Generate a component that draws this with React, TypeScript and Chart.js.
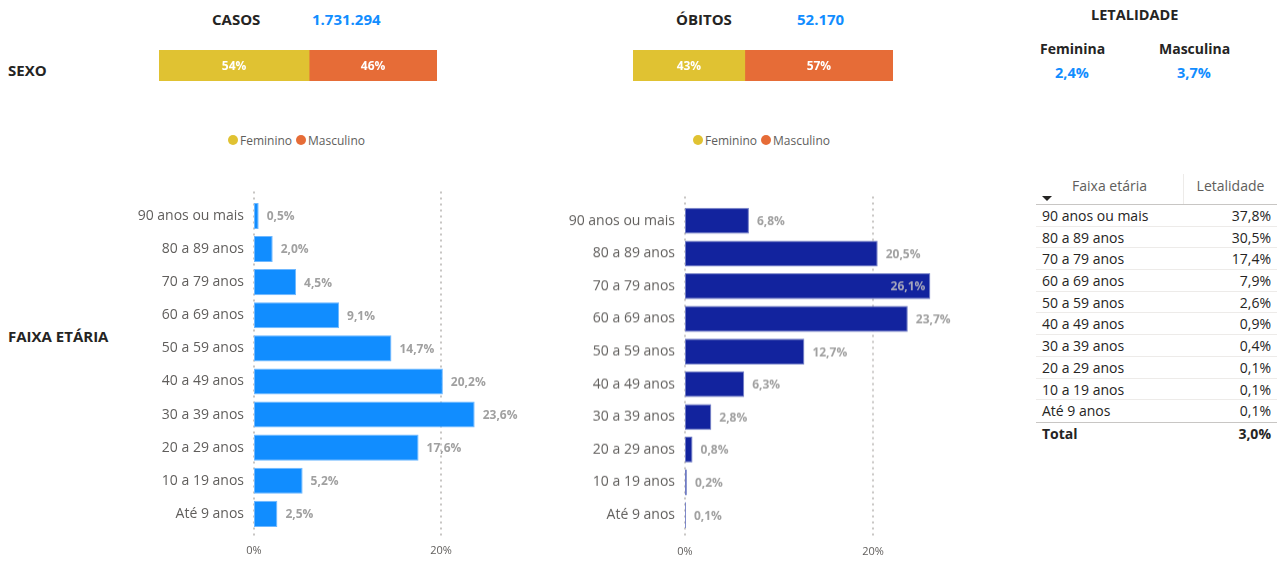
import React, { useEffect, useRef } from "react";
import { Chart, registerables } from "chart.js";

Chart.register(...registerables);

const FONT = '"Segoe UI", "Open Sans", sans-serif';
Chart.defaults.font.family = FONT;

// ---- Data ----
const ageLabels = [
  "90 anos ou mais",
  "80 a 89 anos",
  "70 a 79 anos",
  "60 a 69 anos",
  "50 a 59 anos",
  "40 a 49 anos",
  "30 a 39 anos",
  "20 a 29 anos",
  "10 a 19 anos",
  "Até 9 anos",
];
const casosPct = [0.5, 2.0, 4.5, 9.1, 14.7, 20.2, 23.6, 17.6, 5.2, 2.5];
const obitosPct = [6.8, 20.5, 26.1, 23.7, 12.7, 6.3, 2.8, 0.8, 0.2, 0.1];
const letalidadePct = [37.8, 30.5, 17.4, 7.9, 2.6, 0.9, 0.4, 0.1, 0.1, 0.1];
const letalidadeTotal = 3.0;

const sexLabels = ["Feminino", "Masculino"];
const casosSex = [54, 46];
const obitosSex = [43, 57];
const letalidadeSexLabels = ["Feminina", "Masculina"];
const letalidadeSex = [2.4, 3.7];

const casosTotal = "1.731.294";
const obitosTotal = "52.170";
const axisTicks = [0, 20];

const SEX_COLORS = ["#E0C232", "#E66C37"];

const fmtPct = (v: number) => v.toFixed(1).replace(".", ",") + "%";

// ---- Chart helpers ----
function useChart(build: () => any) {
  const ref = useRef<HTMLCanvasElement | null>(null);
  useEffect(() => {
    if (!ref.current) return;
    const chart = new Chart(ref.current, build());
    return () => chart.destroy();
  }, []);
  return ref;
}

const sexLabelPlugin = {
  id: "sexLabels",
  afterDatasetsDraw(chart: any) {
    const ctx = chart.ctx;
    ctx.save();
    ctx.font = `bold 12px ${FONT}`;
    ctx.fillStyle = "#FFFFFF";
    ctx.textAlign = "center";
    ctx.textBaseline = "middle";
    chart.data.datasets.forEach((ds: any, di: number) => {
      const meta = chart.getDatasetMeta(di);
      meta.data.forEach((bar: any, i: number) => {
        const p = bar.getProps(["x", "y", "base"], true);
        ctx.fillText(Math.round(ds.data[i]) + "%", (p.x + p.base) / 2, p.y + 1);
      });
    });
    ctx.restore();
  },
};

function SexBar({ values, left, top, width, height }: any) {
  const ref = useChart(() => ({
    type: "bar",
    data: {
      labels: [""],
      datasets: sexLabels.map((l, i) => ({
        label: l,
        data: [values[i]],
        backgroundColor: SEX_COLORS[i],
        borderWidth: 0,
        barPercentage: 1,
        categoryPercentage: 1,
      })),
    },
    options: {
      indexAxis: "y",
      animation: false,
      responsive: true,
      maintainAspectRatio: false,
      layout: { padding: 0 },
      plugins: { legend: { display: false }, tooltip: { enabled: false } },
      scales: {
        x: { stacked: true, min: 0, max: 100, display: false },
        y: { stacked: true, display: false },
      },
    },
    plugins: [sexLabelPlugin],
  }));
  return (
    <div style={{ position: "absolute", left, top, width, height }}>
      <canvas ref={ref} />
    </div>
  );
}

const barLabelPlugin = {
  id: "barLabels",
  afterDatasetsDraw(chart: any) {
    const ctx = chart.ctx;
    const ds = chart.data.datasets[0];
    const meta = chart.getDatasetMeta(0);
    const max = chart.scales.x.max;
    ctx.save();
    ctx.font = `bold 12px ${FONT}`;
    ctx.textBaseline = "middle";
    meta.data.forEach((bar: any, i: number) => {
      const v = ds.data[i];
      const txt = fmtPct(v);
      const p = bar.getProps(["x", "y"], true);
      if (v / max > 0.85) {
        ctx.fillStyle = "#A9A9BC";
        ctx.textAlign = "right";
        ctx.fillText(txt, p.x - 5, p.y + 1);
      } else {
        ctx.fillStyle = "#A0A0A0";
        ctx.textAlign = "left";
        ctx.fillText(txt, p.x + 8, p.y + 1);
      }
    });
    ctx.restore();
  },
};

function AgeChart({ values, color, border, left, top, width, height, padTop, padRight, yWidth }: any) {
  const ref = useChart(() => ({
    type: "bar",
    data: {
      labels: ageLabels,
      datasets: [
        {
          data: values,
          backgroundColor: color,
          borderColor: border,
          borderWidth: 1,
          borderSkipped: false,
          barPercentage: 0.79,
          categoryPercentage: 1,
        },
      ],
    },
    options: {
      indexAxis: "y",
      animation: false,
      responsive: true,
      maintainAspectRatio: false,
      layout: { padding: { top: padTop, right: padRight, left: 0, bottom: 0 } },
      plugins: { legend: { display: false }, tooltip: { enabled: false } },
      scales: {
        x: {
          min: 0,
          max: 30,
          afterBuildTicks: (scale: any) => {
            scale.ticks = axisTicks.map((v) => ({ value: v }));
          },
          afterFit: (scale: any) => {
            scale.height = 30;
          },
          border: { display: false },
          grid: { display: false, drawTicks: false },
          ticks: {
            padding: 14,
            color: "#605E5C",
            font: { size: 11 },
            callback: (v: any) => v + "%",
          },
        },
        y: {
          afterFit: (scale: any) => {
            scale.width = yWidth;
          },
          border: { display: false },
          grid: { display: false, drawTicks: false },
          ticks: { padding: 10, color: "#605E5C", font: { size: 14 } },
        },
      },
    },
    plugins: [
      {
        id: "dottedGrid",
        beforeDatasetsDraw(chart: any) {
          const { ctx, chartArea, scales } = chart;
          ctx.save();
          ctx.strokeStyle = "#C8C6C4";
          ctx.lineWidth = 2;
          ctx.setLineDash([2, 4]);
          axisTicks.forEach((t) => {
            const x = Math.round(scales.x.getPixelForValue(t));
            ctx.beginPath();
            ctx.moveTo(x, chartArea.top - 8);
            ctx.lineTo(x, chartArea.bottom + 5);
            ctx.stroke();
          });
          ctx.restore();
        },
      },
      barLabelPlugin,
    ],
  }));
  return (
    <div style={{ position: "absolute", left, top, width, height }}>
      <canvas ref={ref} />
    </div>
  );
}

function Txt({ x, cy, children, color = "#252423", size = 14, weight = 700 }: any) {
  return (
    <div
      style={{
        position: "absolute",
        left: x,
        top: cy - 10,
        lineHeight: "20px",
        fontSize: size,
        fontWeight: weight,
        color,
        whiteSpace: "nowrap",
      }}
    >
      {children}
    </div>
  );
}

function Legend({ x, cy }: any) {
  return (
    <div
      style={{
        position: "absolute",
        left: x,
        top: cy - 8,
        height: 16,
        display: "flex",
        alignItems: "center",
        fontSize: 12,
        color: "#605E5C",
        whiteSpace: "nowrap",
      }}
    >
      {sexLabels.map((l, i) => (
        <div key={l} style={{ display: "flex", alignItems: "center", marginRight: 4 }}>
          <span
            style={{
              display: "inline-block",
              width: 10,
              height: 10,
              borderRadius: 5,
              background: SEX_COLORS[i],
              marginRight: 2,
            }}
          />
          {l}
        </div>
      ))}
    </div>
  );
}

function LetalidadeTable() {
  const rowH = 21.7;
  return (
    <div
      style={{
        position: "absolute",
        left: 1036,
        top: 174,
        width: 241,
        fontSize: 14,
        color: "#252423",
      }}
    >
      <div
        style={{
          display: "flex",
          height: 30,
          borderBottom: "1px solid #C8C6C4",
          color: "#605E5C",
        }}
      >
        <div style={{ width: 147, position: "relative", textAlign: "center", lineHeight: "24px", borderRight: "1px solid #EDEBE9" }}>
          Faixa etária
          <span
            style={{
              position: "absolute",
              left: 6,
              top: 22,
              width: 0,
              height: 0,
              borderLeft: "5px solid transparent",
              borderRight: "5px solid transparent",
              borderTop: "5px solid #252423",
            }}
          />
        </div>
        <div style={{ flex: 1, textAlign: "center", lineHeight: "24px" }}>Letalidade</div>
      </div>
      {ageLabels.map((l, i) => (
        <div
          key={l}
          style={{
            display: "flex",
            height: rowH,
            lineHeight: rowH + 1 + "px",
            borderBottom: i < ageLabels.length - 1 ? "1px solid #EDEBE9" : "none",
            boxSizing: "border-box",
          }}
        >
          <div style={{ width: 147, paddingLeft: 6 }}>{l}</div>
          <div style={{ flex: 1, textAlign: "right", paddingRight: 6 }}>{fmtPct(letalidadePct[i])}</div>
        </div>
      ))}
      <div
        style={{
          display: "flex",
          height: 22,
          lineHeight: "22px",
          borderTop: "1px solid #C8C6C4",
          fontWeight: 700,
        }}
      >
        <div style={{ width: 147, paddingLeft: 6 }}>Total</div>
        <div style={{ flex: 1, textAlign: "right", paddingRight: 6 }}>{fmtPct(letalidadeTotal)}</div>
      </div>
    </div>
  );
}

export default function App() {
  return (
    <div
      style={{
        position: "absolute",
        left: 0,
        top: 0,
        width: 1279,
        height: 565,
        background: "#FFFFFF",
        fontFamily: FONT,
        overflow: "hidden",
      }}
    >
      <Txt x={212} cy={19} size={15}>CASOS</Txt>
      <Txt x={312} cy={19} size={15} color="#118DFF">{casosTotal}</Txt>
      <Txt x={676} cy={19} size={15}>ÓBITOS</Txt>
      <Txt x={797} cy={19} size={15} color="#118DFF">{obitosTotal}</Txt>
      <Txt x={1091} cy={15} size={14.5}>LETALIDADE</Txt>
      <Txt x={1040} cy={49}>{letalidadeSexLabels[0]}</Txt>
      <Txt x={1159} cy={49}>{letalidadeSexLabels[1]}</Txt>
      <Txt x={1055} cy={73} size={14.5} color="#118DFF">{fmtPct(letalidadeSex[0])}</Txt>
      <Txt x={1177} cy={73} size={14.5} color="#118DFF">{fmtPct(letalidadeSex[1])}</Txt>
      <Txt x={8} cy={70} size={15}>SEXO</Txt>
      <Txt x={8} cy={336} size={15}>FAIXA ETÁRIA</Txt>

      <SexBar values={casosSex} left={159} top={50} width={278} height={31} />
      <SexBar values={obitosSex} left={633} top={50} width={260} height={31} />
      <Legend x={228} cy={140} />
      <Legend x={693} cy={140} />

      <AgeChart
        values={casosPct}
        color="#118DFF"
        border="#6FB8FF"
        left={100}
        top={181}
        width={440}
        height={379.4}
        padTop={0}
        padRight={5.5}
        yWidth={154}
      />
      <AgeChart
        values={obitosPct}
        color="#12239E"
        border="#6F7BC4"
        left={530}
        top={186.2}
        width={442}
        height={374.4}
        padTop={0}
        padRight={5}
        yWidth={155}
      />

      <LetalidadeTable />
    </div>
  );
}
